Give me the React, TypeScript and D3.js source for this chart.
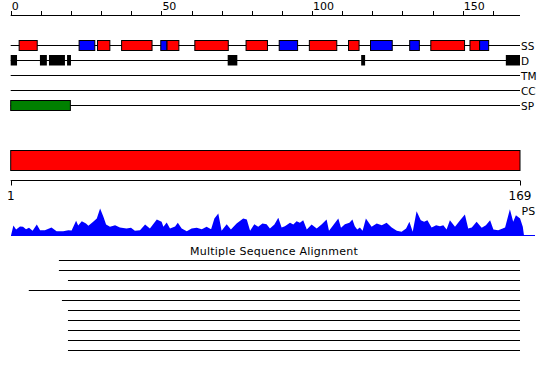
import React from "react";
import * as d3 from "d3";

// ---- data ----
const seqLength = 169;
const axisTicks = d3.range(0, 170, 10);
const axisLabels = [0, 50, 100, 150];

const helixStart = [2.8, 28.8, 36.8, 51.8, 61.1, 78.1, 99.1, 112.1, 139.4, 152.4];
const helixEnd = [8.8, 32.9, 46.9, 55.8, 72.2, 85.2, 108.2, 115.6, 150.6, 155.6];
const strandStart = [22.7, 49.8, 89.1, 119.4, 132.4, 155.6];
const strandEnd = [27.9, 51.8, 95.2, 126.6, 135.6, 158.6];

const disorderStart = [0, 9.7, 12.7, 18.7, 72, 116.3, 164.3];
const disorderEnd = [2.1, 12, 18, 20, 75.2, 117.6, 169];

const spStart = [0];
const spEnd = [19.8];

const rowLabels = ["SS", "D", "TM", "CC", "SP"];

const domainStart = [0];
const domainEnd = [169];

const rulerLabels = [1, 169];

const psPos = [0, 0.8, 1.7, 3, 4, 5, 6, 7.2, 8.6, 9.7, 11.3, 13.5, 15.2, 17.4, 19.1, 20.2, 21.7, 22.4, 23.6, 25, 25.8, 27.4, 28.6, 29.7, 30.8, 31.7, 33, 34.7, 36.3, 38.5, 40, 41.3, 43, 44.7, 46.3, 48.6, 50.2, 50.8, 51.9, 53, 54.7, 55.6, 56.9, 58.6, 60.2, 61.9, 63.6, 65.2, 66.7, 67.8, 69.1, 70.2, 71.9, 73.3, 75.2, 77.4, 78.6, 79.7, 81.1, 82.4, 83.8, 85.2, 86.3, 87.8, 89.1, 90.2, 91.3, 93, 94.1, 95.2, 96.3, 97.4, 98.6, 100.2, 101.9, 103.6, 105.2, 106, 107.4, 109.1, 110, 111.3, 112.8, 113.8, 114.6, 115.4, 116.3, 117.2, 118.3, 120.2, 121.9, 123.6, 125.2, 126.9, 128.6, 130.2, 131.7, 132.8, 133.9, 135.2, 136.6, 137.7, 138.8, 140.2, 141.7, 143, 144.1, 145.2, 146.3, 148, 149.7, 151.3, 152.4, 153.6, 155.2, 156.9, 158.3, 159.7, 160.8, 162.4, 163.9, 164.7, 166.3, 167.4, 168.3, 169.7, 170.6, 171];
const psVal = [0, 10, 6, 9, 8.7, 6.3, 7.7, 4.7, 11, 5.3, 5.3, 8, 4.3, 4.3, 5.3, 5, 14.7, 10, 14.3, 12, 9.7, 13.7, 17, 27, 18.7, 11, 8.7, 10.3, 8, 7, 7.7, 4.7, 5.3, 11, 7, 16, 13.7, 8.7, 13, 7, 9, 12.7, 7, 4.3, 7, 7.7, 6.3, 8.7, 6.3, 17, 22, 4.7, 11.3, 6, 12, 17, 16, 4.7, 11.3, 8.7, 12, 11.3, 7, 11, 17.7, 8, 9.3, 12.7, 11, 14.3, 12.7, 15.3, 6, 11, 7, 11.3, 16, 4.7, 10.3, 17, 7.7, 11.3, 12.7, 16, 9.3, 6, 8, 4.7, 17, 8.7, 12, 10.3, 12.7, 8, 4.7, 3.7, 7, 13.7, 3.7, 24.3, 15.3, 13.7, 15.3, 8, 10.3, 9.3, 10.3, 6, 15.3, 8.7, 15.3, 21, 7, 8, 13.7, 7.7, 10.3, 15.3, 6, 5.3, 7, 8, 26.3, 13.7, 20.3, 17, 8.7, 0];

const msaTitle = "Multiple Sequence Alignment";
const msaStart = [16, 16, 19, 6, 17, 19, 19, 19, 19, 19];
const msaEnd = [169, 169, 169, 169, 169, 169, 169, 169, 169, 169];

// ---- component ----
export default function App() {
  const W = 550;
  const H = 380;
  const font = "DejaVu Sans, sans-serif";
  const x = d3.scaleLinear().domain([0, seqLength]).range([10.7, 520]);
  const ruler = d3.scaleLinear().domain([1, seqLength]).range([10.7, 520]);
  const psX = d3.scaleLinear().domain([0, 171]).range([11, 524]);
  const psY = d3.scaleLinear().domain([0, 30]).range([235.5, 205.5]);

  const rowY = [45.5, 60.5, 75.5, 90.5, 105.5];

  const area = d3
    .area<number>()
    .x((_, i) => psX(psPos[i]))
    .y0(psY(0))
    .y1((d) => psY(d))
    .curve(d3.curveLinear);

  return (
    <svg
      width={W}
      height={H}
      style={{ position: "absolute", left: 0, top: 0, background: "#fff" }}
      fontFamily={font}
    >
      {/* top axis */}
      <line x1={x(0)} x2={x(seqLength)} y1={15.5} y2={15.5} stroke="#000" />
      {axisTicks.map((t) => (
        <line key={t} x1={Math.round(x(t)) + 0.5} x2={Math.round(x(t)) + 0.5} y1={11} y2={15.5} stroke="#000" />
      ))}
      {axisLabels.map((t) => (
        <text key={t} x={x(t) + 1} y={9.5} fontSize={11} fill="#000">
          {t}
        </text>
      ))}

      {/* track lines */}
      {rowY.map((y, i) => (
        <g key={i}>
          <line x1={x(0)} x2={x(seqLength)} y1={y} y2={y} stroke="#000" />
          <text x={521} y={y + 4} fontSize={10.5} fill="#000">
            {rowLabels[i]}
          </text>
        </g>
      ))}

      {/* SS */}
      {helixStart.map((s, i) => (
        <rect key={"h" + i} x={x(s)} y={40.5} width={x(helixEnd[i]) - x(s)} height={10} fill="#ff0000" stroke="#000" />
      ))}
      {strandStart.map((s, i) => (
        <rect key={"e" + i} x={x(s)} y={40.5} width={x(strandEnd[i]) - x(s)} height={10} fill="#0000ff" stroke="#000" />
      ))}

      {/* D */}
      {disorderStart.map((s, i) => (
        <rect key={"d" + i} x={x(s)} y={55} width={x(disorderEnd[i]) - x(s)} height={10.5} fill="#000" />
      ))}

      {/* SP */}
      {spStart.map((s, i) => (
        <rect key={"sp" + i} x={x(s)} y={100.5} width={x(spEnd[i]) - x(s)} height={10} fill="#008000" stroke="#000" />
      ))}

      {/* domain bar */}
      {domainStart.map((s, i) => (
        <rect key={"dom" + i} x={x(s)} y={150.5} width={x(domainEnd[i]) - x(s)} height={20} fill="#ff0000" stroke="#000" />
      ))}

      {/* ruler */}
      <line x1={ruler(1)} x2={ruler(seqLength)} y1={180.5} y2={180.5} stroke="#000" />
      {rulerLabels.map((t) => (
        <g key={t}>
          <line x1={Math.round(ruler(t)) + 0.5} x2={Math.round(ruler(t)) + 0.5} y1={180.5} y2={185.5} stroke="#000" />
          <text x={ruler(t)} y={200} fontSize={12} textAnchor="middle" fill="#000">
            {t}
          </text>
        </g>
      ))}

      {/* PS */}
      <path d={area(psVal) || ""} fill="#0000ff" />
      <line x1={psX(0)} x2={535} y1={235.5} y2={235.5} stroke="#0000ff" />
      <text x={521.5} y={215} fontSize={11} fill="#000">
        PS
      </text>

      {/* MSA */}
      <text x={274} y={255} fontSize={11} letterSpacing={0.25} textAnchor="middle" fill="#000">
        {msaTitle}
      </text>
      {msaStart.map((s, i) => (
        <line key={"m" + i} x1={x(s)} x2={x(msaEnd[i])} y1={260.5 + 10 * i} y2={260.5 + 10 * i} stroke="#000" />
      ))}
    </svg>
  );
}
